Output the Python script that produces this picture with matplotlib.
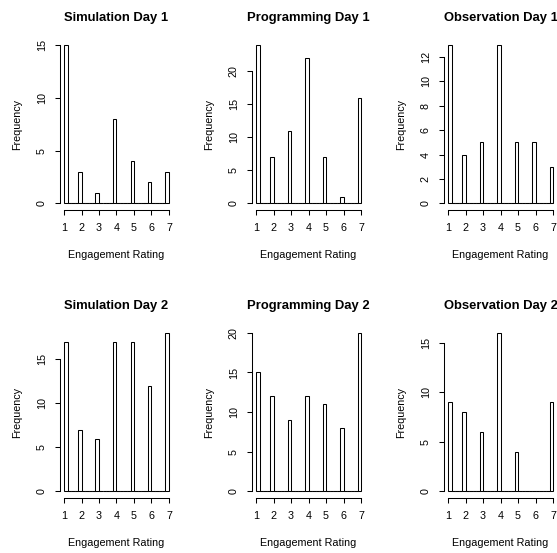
import numpy as np
import matplotlib
matplotlib.use("Agg")
import matplotlib.pyplot as plt

plt.rcParams['font.family'] = ['Liberation Sans', 'DejaVu Sans']

# counts per engagement rating (1..7) for each session
ratings = [1, 2, 3, 4, 5, 6, 7]
sim_day1 = [15, 3, 1, 8, 4, 2, 3]
prog_day1 = [24, 7, 11, 22, 7, 1, 16]
obs_day1 = [13, 4, 5, 13, 5, 5, 3]
sim_day2 = [17, 7, 6, 17, 17, 12, 18]
prog_day2 = [15, 12, 9, 12, 11, 8, 20]
obs_day2 = [9, 8, 6, 16, 4, 0, 9]

titles = ["Simulation Day 1", "Programming Day 1", "Observation Day 1",
          "Simulation Day 2", "Programming Day 2", "Observation Day 2"]
series = [sim_day1, prog_day1, obs_day1, sim_day2, prog_day2, obs_day2]
yticks = [[0, 5, 10, 15], [0, 5, 10, 15, 20], [0, 2, 4, 6, 8, 10, 12],
          [0, 5, 10, 15], [0, 5, 10, 15, 20], [0, 5, 10, 15]]

# histogram breaks of width 0.2, right-closed (first bin includes 1)
breaks = np.round(np.arange(1, 7.0001, 0.2), 2)

W, H = 557, 553
fig = plt.figure(figsize=(W / 100, H / 100), dpi=100)
fig.patch.set_facecolor('white')

# plot region in pixels: 3x2 grid on a 192x288 cell
left0, right0 = 59.8, 173.2
top0, bottom0 = 38.5, 209.8
cell_w, cell_h = 192, 288
px = 0.72  # points per pixel
fs = 10.8 * px
fs_title = 13 * px

for i, (title, vals, yt) in enumerate(zip(titles, series, yticks)):
    r, c = divmod(i, 3)
    x0 = left0 + c * cell_w
    x1 = right0 + c * cell_w
    y0 = top0 + r * cell_h
    y1 = bottom0 + r * cell_h
    ax = fig.add_axes([x0 / W, 1 - y1 / H, (x1 - x0) / W, (y1 - y0) / H])

    counts = np.zeros(len(breaks) - 1)
    for rating, n in zip(ratings, vals):
        idx = 0 if rating == 1 else int(round((rating - 1) / 0.2)) - 1
        counts[idx] += n
    ax.bar(breaks[:-1], counts, width=0.2, align='edge', facecolor='white',
           edgecolor='black', linewidth=0.75, clip_on=False)
    # empty bins still show as a flat outline along zero
    empty = counts == 0
    ax.hlines(np.zeros(empty.sum()), breaks[:-1][empty], breaks[1:][empty],
              color='black', linewidth=0.75)

    ymax = max(vals)
    ax.set_xlim(1 - 0.24, 7 + 0.24)
    ax.set_ylim(-0.04 * ymax, ymax * 1.04)

    for s in ['top', 'right']:
        ax.spines[s].set_visible(False)
    ax.spines['bottom'].set_bounds(1, 7)
    ax.spines['left'].set_bounds(yt[0], yt[-1])
    for s in ['bottom', 'left']:
        ax.spines[s].set_linewidth(0.75)

    ax.set_xticks(ratings)
    ax.set_yticks(yt)
    ax.set_yticklabels([str(t) for t in yt], rotation=90, va='center')
    ax.tick_params(axis='both', length=5 * px, width=0.75, labelsize=fs)
    ax.tick_params(axis='x', pad=8 * px)
    ax.tick_params(axis='y', pad=8 * px)

    h = y1 - y0
    w = x1 - x0
    ax.set_xlabel("Engagement Rating", fontsize=fs, va='center')
    ax.xaxis.set_label_coords(0.5, -45 / h)
    ax.set_ylabel("Frequency", fontsize=fs, va='center')
    ax.yaxis.set_label_coords(-43 / w, 0.5)
    ax.set_title(title, fontsize=fs_title, fontweight='bold', pad=18 * px)

fig.savefig("out.png", dpi=100)
